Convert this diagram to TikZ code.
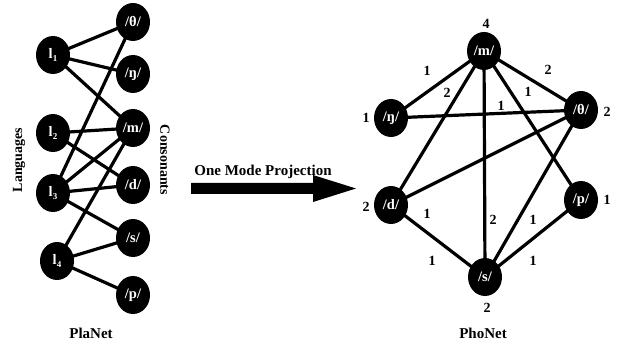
\documentclass[tikz,border=0pt]{standalone}
\usepackage{fontspec}
\setmainfont{Liberation Serif}
\usetikzlibrary{shapes.geometric,backgrounds}
\newcommand{\langsub}[1]{l\raisebox{-0.55ex}{\fontsize{9}{9}\selectfont #1}}
\begin{document}
\begin{tikzpicture}[x=1pt,y=-1pt,
  vert/.style={ellipse,fill=black,text=white,minimum width=34pt,minimum height=38pt,inner sep=0pt,font=\bfseries\fontsize{14.5}{15}\selectfont},
  edge/.style={line width=3.2pt},
  lbl/.style={font=\bfseries\fontsize{14}{15}\selectfont,inner sep=0pt},
  ttl/.style={font=\bfseries\fontsize{15}{16}\selectfont,inner sep=0pt}]
\useasboundingbox (0,0) rectangle (620,347);
% PlaNet
\node[vert] (l1) at (53,55) {\langsub{1}};
\node[vert] (l2) at (53,133) {\langsub{2}};
\node[vert] (l3) at (53,193) {\langsub{3}};
\node[vert] (l4) at (57,261) {\langsub{4}};
\node[vert] (th) at (133,22) {/θ/};
\node[vert] (ng) at (133,74) {/ŋ/};
\node[vert] (m) at (133,128) {/m/};
\node[vert] (d) at (133,185) {/d/};
\node[vert] (s) at (133,238) {/s/};
\node[vert] (p) at (133,295) {/p/};
\begin{scope}[on background layer]
\draw[edge] (l1.center) -- (th.center) (l1.center) -- (ng.center) (l1.center) -- (m.center);
\draw[edge] (l2.center) -- (m.center) (l2.center) -- (d.center);
\draw[edge] (l3.center) -- (th.center) (l3.center) -- (m.center) (l3.center) -- (d.center) (l3.center) -- (s.center);
\draw[edge] (l4.center) -- (m.center) (l4.center) -- (s.center) (l4.center) -- (p.center);
\end{scope}
\node[lbl,rotate=90] (lang) at (19,160) {Languages};
\node[lbl,rotate=-90] (cons) at (165,160) {Consonants};
\node[ttl] (planet) at (91,333) {PlaNet};
% Arrow
\coordinate (a0) at (191,188.5);
\coordinate (a1) at (356,188.5);
\fill (191,183) -- (313,183) -- (313,175) -- (356,188.5) -- (313,202) -- (313,194) -- (191,194) -- cycle;
\node[ttl] (proj) at (263,172) {One Mode Projection};
% PhoNet
\node[vert] (Pm) at (484,51) {/m/};
\node[vert] (Png) at (391,118) {/ŋ/};
\node[vert] (Pth) at (581,110) {/θ/};
\node[vert] (Pd) at (391,205) {/d/};
\node[vert] (Pp) at (581,200) {/p/};
\node[vert] (Ps) at (485,277) {/s/};
\begin{scope}[on background layer]
\draw[edge] (Pm.center) -- (Png.center) (Pm.center) -- (Pd.center) (Pm.center) -- (Ps.center) (Pm.center) -- (Pp.center) (Pm.center) -- (Pth.center);
\draw[edge] (Png.center) -- (Pth.center) (Pth.center) -- (Pd.center) (Pth.center) -- (Ps.center);
\draw[edge] (Pd.center) -- (Ps.center) (Pp.center) -- (Ps.center);
\end{scope}
% node weights
\node[lbl] at (486,24) {4};
\node[lbl] at (366,118) {1};
\node[lbl] at (607,112) {2};
\node[lbl] at (366,207) {2};
\node[lbl] at (607,200) {1};
\node[lbl] at (487,308) {2};
% edge weights
\node[lbl] at (427,71) {1};
\node[lbl] at (447,93) {2};
\node[lbl] at (528,92) {1};
\node[lbl] at (548,70) {2};
\node[lbl] at (501,106) {1};
\node[lbl] at (427,214) {1};
\node[lbl] at (493,220) {2};
\node[lbl] at (533,220) {1};
\node[lbl] at (432,261) {1};
\node[lbl] at (533,261) {1};
\node[ttl] (phonet) at (483,333) {PhoNet};
\end{tikzpicture}
\end{document}
